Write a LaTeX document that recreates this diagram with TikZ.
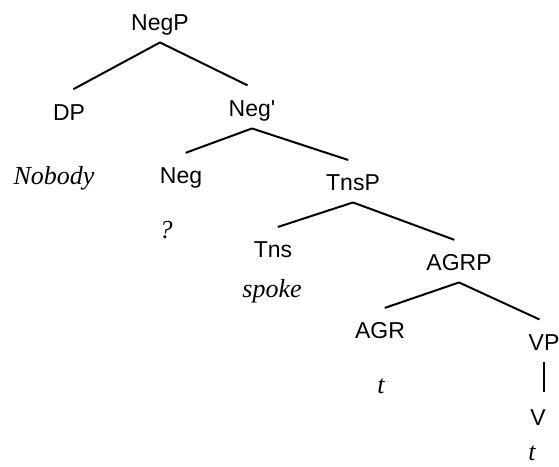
\documentclass[tikz,border=0pt]{standalone}
\usepackage{fontspec}
\setmainfont{Liberation Serif}
\setsansfont{Liberation Sans}
\usetikzlibrary{positioning}
\tikzset{
  cat/.style={
    font=\sffamily\fontsize{23}{27}\selectfont,
    text height=16.5pt, text depth=0pt,
    inner xsep=0pt, inner ysep=12pt
  },
  word/.style={font=\itshape\fontsize{26}{30}\selectfont, anchor=base, inner sep=0pt},
  branch/.style={line width=2pt, shorten >=5pt},
}

\begin{document}
\begin{tikzpicture}[x=1pt, y=-1pt]
\useasboundingbox (0,0) rectangle (559,466);

% --- category labels ---
\node[cat] (negp)   at (160,22)  {NegP};
\node[cat] (dp)     at (69,112)  {DP};
\node[cat] (negbar) at (252,108) {Neg\textquotesingle};
\node[cat] (neg)    at (181,175) {Neg};
\node[cat] (tnsp)   at (353,182) {TnsP};
\node[cat] (tns)    at (273,249) {Tns};
\node[cat] (agrp)   at (459,262) {AGRP};
\node[cat] (agr)    at (380,330) {AGR};
\node[cat] (vp)     at (544,342) {VP};
\node[cat] (v)      at (538,417) {V};

% --- words under the heads ---
\node[word] (nobody) at (54,184)  {Nobody};
\node[word] (negw)   at (166,238) {?};
\node[word] (spoke)  at (272,297) {spoke};
\node[word] (agrt)   at (381,393) {t};
\node[word] (vt)     at (532,460) {t};

% --- branches ---
\draw[branch] (negp.south) -- (dp.north);
\draw[branch] (negp.south) -- (negbar.north);
\draw[branch] (negbar.south) -- (neg.north);
\draw[branch] (negbar.south) -- (tnsp.north);
\draw[branch] (tnsp.south) -- (tns.north);
\draw[branch] (tnsp.south) -- (agrp.north);
\draw[branch] (agrp.south) -- (agr.north);
\draw[branch] (agrp.south) -- (vp.north);
\draw[branch] (vp.south) -- (vp.south |- v.north);

\end{tikzpicture}
\end{document}
